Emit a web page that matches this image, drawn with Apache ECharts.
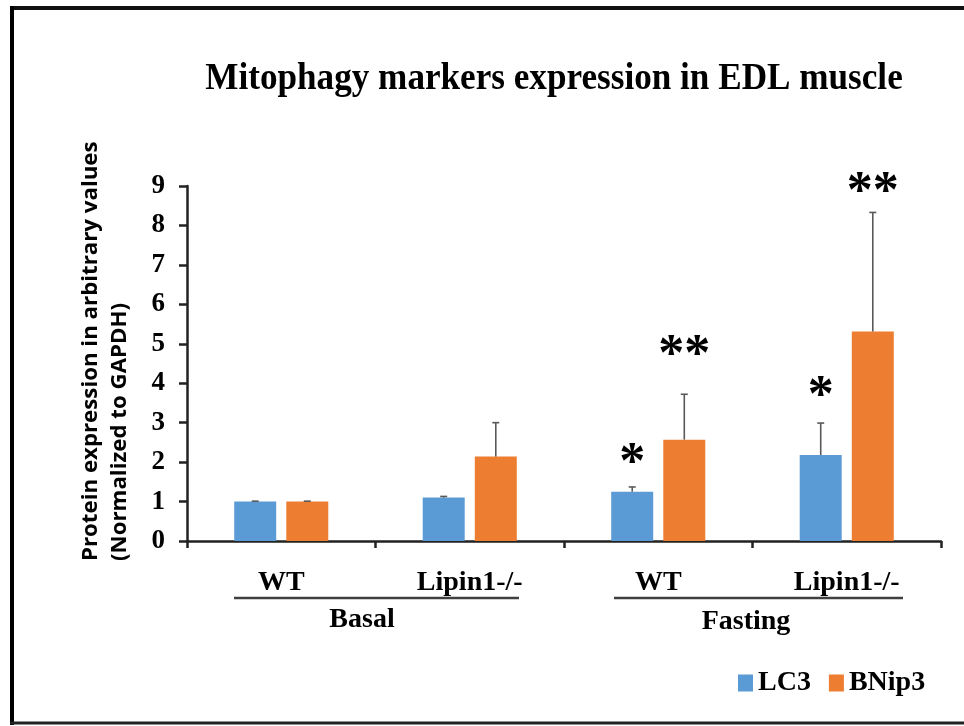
<!DOCTYPE html>
<html>
<head>
<meta charset="utf-8">
<script src="https://cdn.jsdelivr.net/npm/echarts@6/dist/echarts.min.js"></script>
<style>html,body{margin:0;padding:0;background:#fff;}#c{width:964px;height:726px;}</style>
</head>
<body>
<div id="c"></div>
<script>
const categories = ['WT', 'Lipin1-/-', 'WT', 'Lipin1-/-'];
const groups = ['Basal', 'Fasting'];
const seriesNames = ['LC3', 'BNip3'];
const lc3Values = [1.00, 1.10, 1.25, 2.18];
const lc3Errors = [0.01, 0.03, 0.12, 0.81];
const bnip3Values = [1.00, 2.14, 2.57, 5.31];
const bnip3Errors = [0.01, 0.86, 1.15, 3.02];
const lc3Sig = ['', '', '*', '*'];
const bnip3Sig = ['', '', '**', '**'];
const lc3SigLevel = [null, null, 2.21, 3.92];
const bnip3SigLevel = [null, null, 4.96, 9.08];
const yTicks = [0, 1, 2, 3, 4, 5, 6, 7, 8, 9];
const titleText = 'Mitophagy markers expression in EDL muscle';
const yTitleLines = ['Protein expression in arbitrary values', '(Normalized to GAPDH)'];

const BAR_W = 42, BAR_GAP = 0.24;
const COLORS = ['#5B9BD5', '#ED7D31'];
const SERIF = '"Liberation Serif", "Times New Roman", serif';
const SANS = '"Open Sans", "Noto Sans", sans-serif';

function offsetFor(k) {
  const half = BAR_W / 2 + BAR_W * BAR_GAP / 2;
  return k === 0 ? -half : half;
}

function errData(vals, errs) { return vals.map((v, i) => [i, v, errs[i]]); }
function sigData(levels, marks) { return levels.map((l, i) => [i, l == null ? 0 : l, marks[i]]); }

function errRender(k) {
  return function (params, api) {
    const i = api.value(0), v = api.value(1), e = api.value(2);
    const b = api.coord([i, v]);
    const t = api.coord([i, v + e]);
    const x = b[0] + offsetFor(k);
    const st = { stroke: '#595959', lineWidth: 1.6 };
    return { type: 'group', children: [
      { type: 'line', shape: { x1: x, y1: b[1], x2: x, y2: t[1] }, style: st },
      { type: 'line', shape: { x1: x - 3.5, y1: t[1], x2: x + 3.5, y2: t[1] }, style: st }
    ]};
  };
}

function sigRender(k, marks) {
  return function (params, api) {
    const i = api.value(0);
    const m = marks[params.dataIndex];
    if (!m) return null;
    const p = api.coord([i, api.value(1)]);
    return { type: 'text', style: {
      text: m, x: p[0] + offsetFor(k), y: p[1] + 11,
      align: 'center', verticalAlign: 'middle',
      font: 'bold 52px ' + SERIF, fill: '#000'
    }};
  };
}

const chart = echarts.init(document.getElementById('c'));
chart.setOption({
  animation: false,
  backgroundColor: '#fff',
  legend: {
    data: seriesNames, left: 733, top: 664, icon: 'rect',
    itemWidth: 15, itemHeight: 17, itemGap: 18,
    textStyle: { fontFamily: SERIF, fontWeight: 'bold', fontSize: 28, color: '#000' }
  },
  grid: { left: 187, right: 23, top: 186, bottom: 185 },
  xAxis: {
    type: 'category', data: categories,
    axisLine: { lineStyle: { color: '#222', width: 2.5 } },
    axisTick: { show: true, length: 7, lineStyle: { color: '#222', width: 2.5 } },
    axisLabel: { margin: 28, fontFamily: SERIF, fontWeight: 'bold', fontSize: 28, color: '#000' }
  },
  yAxis: {
    type: 'value', min: 0, max: 9, interval: 1,
    splitLine: { show: false },
    axisLine: { show: true, lineStyle: { color: '#222', width: 2.5 } },
    axisTick: { show: true, length: 8, lineStyle: { color: '#222', width: 2.5 } },
    axisLabel: { margin: 22, fontFamily: SERIF, fontWeight: 'bold', fontSize: 27, color: '#000',
      formatter: v => yTicks.includes(v) ? String(v) : '' }
  },
  series: [
    { name: seriesNames[0], type: 'bar', data: lc3Values, barWidth: BAR_W, barGap: (BAR_GAP * 100) + '%',
      itemStyle: { color: COLORS[0] } },
    { name: seriesNames[1], type: 'bar', data: bnip3Values, barWidth: BAR_W,
      itemStyle: { color: COLORS[1] } },
    { type: 'custom', data: errData(lc3Values, lc3Errors), renderItem: errRender(0), z: 5, silent: true },
    { type: 'custom', data: errData(bnip3Values, bnip3Errors), renderItem: errRender(1), z: 5, silent: true },
    { type: 'custom', data: sigData(lc3SigLevel, lc3Sig), renderItem: sigRender(0, lc3Sig), clip: false, z: 6, silent: true },
    { type: 'custom', data: sigData(bnip3SigLevel, bnip3Sig), renderItem: sigRender(1, bnip3Sig), clip: false, z: 6, silent: true }
  ],
  graphic: [
    { type: 'line', shape: { x1: 12, y1: 8, x2: 964, y2: 8 }, style: { stroke: '#111', lineWidth: 4 } },
    { type: 'line', shape: { x1: 12, y1: 6, x2: 12, y2: 725 }, style: { stroke: '#000', lineWidth: 4 } },
    { type: 'line', shape: { x1: 10, y1: 723, x2: 964, y2: 723 }, style: { stroke: '#222', lineWidth: 3 } },
    { type: 'text', x: 554, y: 79, scaleX: 0.925,
      style: { text: titleText, align: 'center', verticalAlign: 'middle',
        font: 'bold 38px ' + SERIF, fill: '#000' } },
    { type: 'line', shape: { x1: 234, y1: 598, x2: 519, y2: 598 }, style: { stroke: '#404040', lineWidth: 2.5 } },
    { type: 'line', shape: { x1: 614, y1: 598, x2: 903, y2: 598 }, style: { stroke: '#404040', lineWidth: 2.5 } },
    { type: 'text', x: 362, y: 620, style: { text: groups[0], align: 'center', verticalAlign: 'middle',
      font: 'bold 28px ' + SERIF, fill: '#000' } },
    { type: 'text', x: 746, y: 622, style: { text: groups[1], align: 'center', verticalAlign: 'middle',
      font: 'bold 28px ' + SERIF, fill: '#000' } },
    { type: 'text', x: 106, y: 561, rotation: Math.PI / 2, scaleX: 1.06,
      style: { text: yTitleLines.join('\n'), align: 'left',
        verticalAlign: 'middle', lineHeight: 29, font: 'bold 21px ' + SANS, fill: '#000' } }
  ]
});
</script>
</body>
</html>
